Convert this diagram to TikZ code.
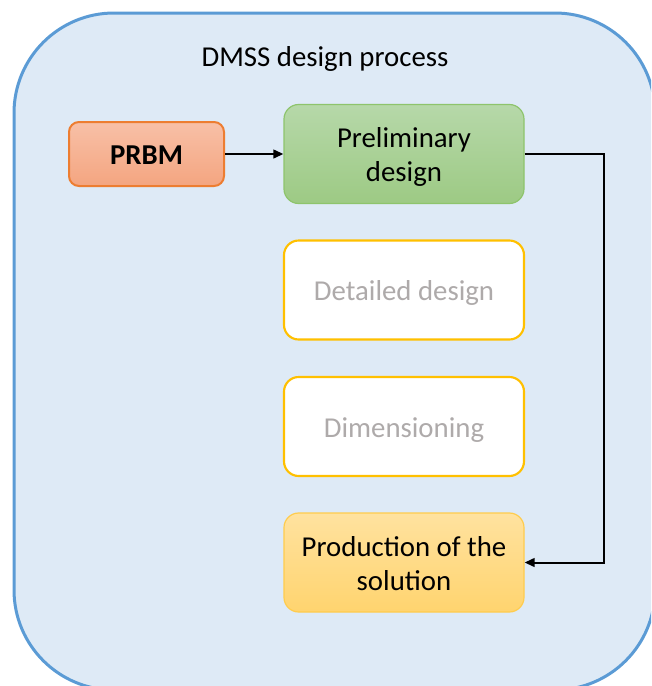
\documentclass[tikz,border=0pt]{standalone}
\usepackage{fontspec}
\setmainfont{Carlito}
\usetikzlibrary{arrows.meta}
\definecolor{bigfill}{HTML}{DEEAF6}
\definecolor{bigline}{HTML}{5B9BD5}
\definecolor{orgtop}{HTML}{F8C0A7}
\definecolor{orgbot}{HTML}{F4A580}
\definecolor{orgline}{HTML}{ED7D31}
\definecolor{grntop}{HTML}{B6D8A9}
\definecolor{grnbot}{HTML}{9DCA84}
\definecolor{grnline}{HTML}{8EC46C}
\definecolor{goldline}{HTML}{FFC000}
\definecolor{greytext}{HTML}{AEAAAA}
\definecolor{yeltop}{HTML}{FFE29F}
\definecolor{yelbot}{HTML}{FFD46F}
\definecolor{yelline}{HTML}{FFCC4D}
\newcommand{\boxtext}[2][-3pt]{\raisebox{#1}[\height][\depth]{\begin{tabular}{@{}c@{}}#2\end{tabular}}}
\tikzset{
  x=0.75pt, y=-0.75pt,
  txt/.style={font=\fontsize{21.6}{25.5}\selectfont, align=center},
  procbox/.style={txt, rounded corners=11pt, minimum width=180pt, minimum height=74.25pt, inner sep=0pt},
  prbmbox/.style={txt, rounded corners=7.5pt, minimum width=116.25pt, minimum height=48pt, inner sep=0pt,
    draw=orgline, line width=1.5pt, top color=orgtop, bottom color=orgbot, font=\fontsize{21.6}{25.5}\selectfont\bfseries},
  greenbox/.style={procbox, draw=grnline, line width=0.9pt, top color=grntop, bottom color=grnbot},
  emptybox/.style={procbox, draw=goldline, line width=1.6pt, fill=white, text=greytext},
  yellowbox/.style={procbox, draw=yelline, line width=0.9pt, top color=yeltop, bottom color=yelbot},
  arr/.style={draw=black, line width=1.5pt, -{Triangle[length=7.5pt,width=6.5pt]}}
}
\begin{document}
\begin{tikzpicture}
\useasboundingbox (0,0) rectangle (651,686);
\clip (0,0) rectangle (651,686);
\draw[fill=bigfill, draw=bigline, line width=2.25pt, rounded corners=75pt] (14,13) rectangle (655,690);
\node[txt] (title) at (325,58.5) {DMSS design process};
\node[prbmbox] (prbm) at (146.5,154) {\boxtext{PRBM}};
\node[greenbox] (prelim) at (404,154) {\boxtext{Preliminary\\design}};
\node[emptybox] (detailed) at (404,290) {\boxtext{Detailed design}};
\node[emptybox] (dim) at (404,426.5) {\boxtext{Dimensioning}};
\node[yellowbox] (prod) at (404,562.5) {\boxtext{Production of the\\solution}};
\draw[arr] (prbm.east) -- (prelim.west);
\coordinate (bend) at (604,154);
\draw[arr] (prelim.east) -- (bend) |- (prod.east);
\end{tikzpicture}
\end{document}
